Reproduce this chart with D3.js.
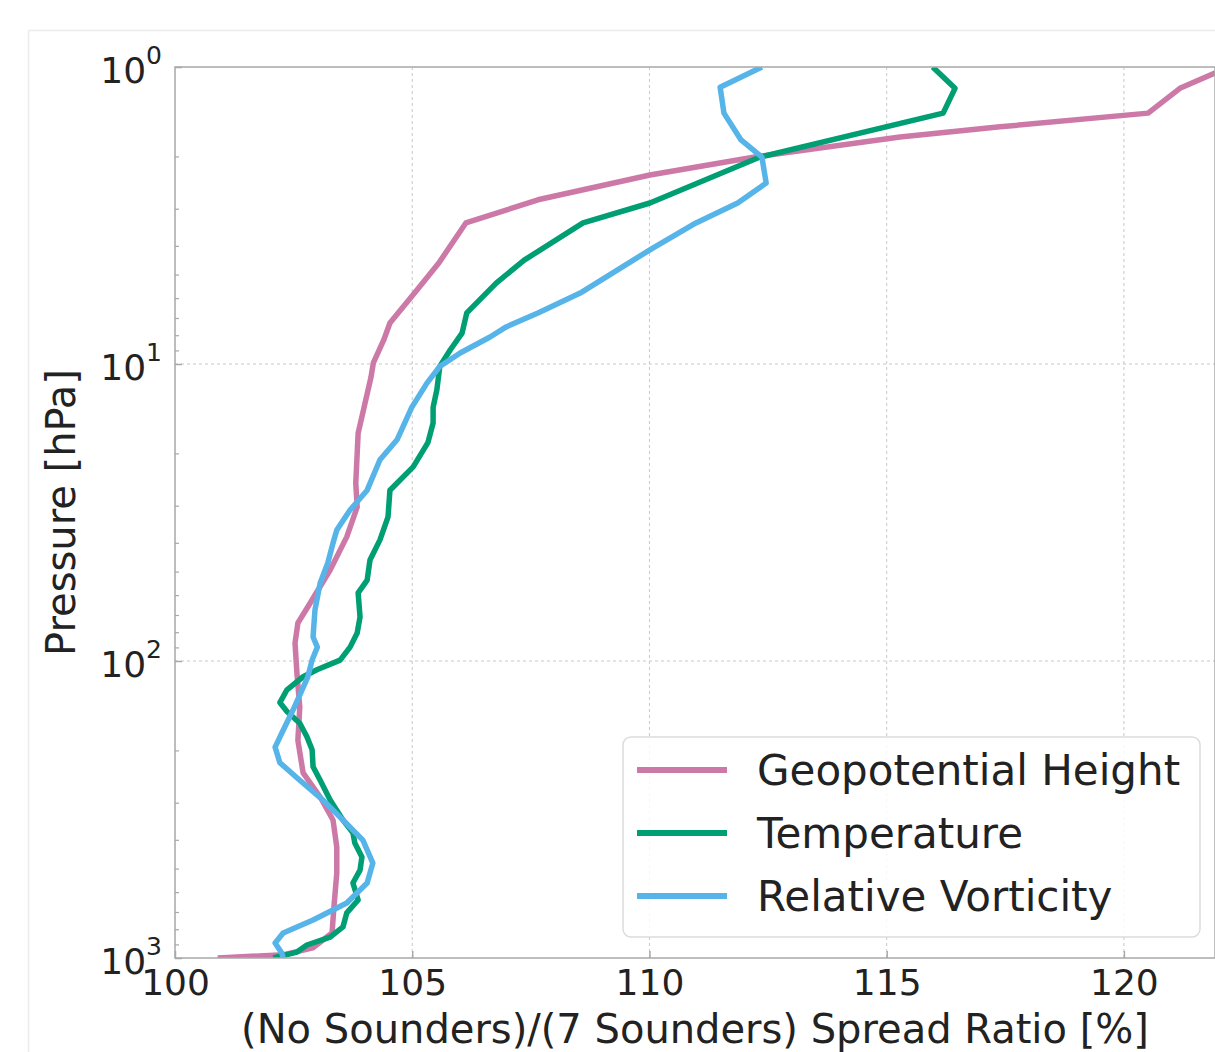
<!DOCTYPE html>
<html>
<head>
<meta charset="utf-8">
<script src="https://cdn.jsdelivr.net/npm/d3@7"></script>
<style>
  body { margin: 0; background: #fff; }
  svg { font-family: "DejaVu Sans", sans-serif; }
</style>
</head>
<body>
<div id="chart"></div>
<script>
const width = 1215;
const height = 1052;

// series names + colours (legend order)
const seriesNames = ['Geopotential Height', 'Temperature', 'Relative Vorticity'];
const seriesColors = ['#CC79A7', '#009E73', '#56B4E9'];

// pressure [hPa] and spread ratio [%]
const geoPressure = [1.0, 1.18, 1.43, 1.59, 1.72, 2.01, 2.31, 2.80, 3.35, 4.57, 5.63, 7.28, 8.30, 9.92, 11.1, 17.1, 25.2, 30.3, 38.2, 49.4, 63.8, 74.5, 87.0, 110, 143, 185, 238, 287, 343, 423, 517, 673, 824, 925, 975, 1000];
const geoRatio = [122.21, 121.18, 120.51, 117.39, 115.28, 112.22, 110.01, 107.65, 106.13, 105.56, 105.10, 104.53, 104.40, 104.18, 104.13, 103.86, 103.81, 103.84, 103.62, 103.27, 102.85, 102.59, 102.53, 102.57, 102.63, 102.59, 102.70, 103.06, 103.33, 103.41, 103.41, 103.35, 103.31, 102.90, 102.30, 100.90];

const tempPressure = [1.0, 1.18, 1.43, 2.01, 2.87, 3.35, 4.47, 5.34, 6.73, 7.87, 8.97, 10.2, 12.2, 14.0, 15.8, 18.4, 22.2, 26.6, 32.7, 39.1, 45.7, 53.4, 59.0, 71.1, 80.5, 89.8, 99.3, 107, 113, 125, 138, 148, 162, 180, 199, 227, 252, 294, 343, 379, 410, 457, 506, 559, 638, 705, 786, 850, 904, 955, 1000];
const tempRatio = [115.97, 116.44, 116.19, 112.33, 110.01, 108.60, 107.36, 106.77, 106.15, 106.05, 105.80, 105.58, 105.52, 105.44, 105.44, 105.33, 105.02, 104.53, 104.49, 104.32, 104.11, 104.05, 103.86, 103.90, 103.84, 103.69, 103.48, 102.99, 102.70, 102.36, 102.21, 102.36, 102.63, 102.78, 102.89, 102.91, 103.06, 103.27, 103.54, 103.75, 103.79, 103.94, 103.90, 103.75, 103.86, 103.62, 103.54, 103.27, 102.78, 102.57, 102.07];

const vortPressure = [1.0, 1.17, 1.43, 1.76, 2.01, 2.46, 2.87, 3.35, 4.07, 5.77, 6.73, 7.50, 8.11, 9.18, 10.2, 11.6, 14.0, 18.0, 21.0, 26.6, 31.0, 36.2, 40.1, 46.8, 54.6, 67.3, 83.0, 89.8, 99.3, 113, 146, 171, 195, 220, 252, 294, 343, 401, 479, 559, 653, 745, 824, 890, 962, 1000];
const vortRatio = [112.37, 111.49, 111.57, 111.93, 112.37, 112.46, 111.86, 110.98, 110.07, 108.54, 107.65, 106.98, 106.64, 106.01, 105.58, 105.31, 104.99, 104.68, 104.32, 104.05, 103.69, 103.41, 103.33, 103.22, 103.06, 102.95, 102.91, 103.00, 102.89, 102.80, 102.49, 102.28, 102.11, 102.21, 102.63, 103.12, 103.54, 103.96, 104.17, 104.05, 103.62, 102.91, 102.28, 102.11, 102.25, 102.28];

const xTicks = [100, 105, 110, 115, 120];
const yMajor = [1, 10, 100, 1000];
const yMinor = [];
[1, 10, 100].forEach(d => { for (let k = 2; k < 10; k++) yMinor.push(d * k); });

const margin = {top: 67, left: 175, bottom: 94, right: 0};
const plotW = width - margin.left - margin.right;
const plotH = height - margin.top - margin.bottom;

const svg = d3.select('#chart').append('svg')
  .attr('width', width)
  .attr('height', height);

// figure frame
svg.append('rect')
  .attr('x', 28.5).attr('y', 30.5)
  .attr('width', 1400).attr('height', 1200)
  .attr('fill', '#fff').attr('stroke', '#ececec').attr('stroke-width', 1.5);

const xScale = d3.scaleLinear().domain([100, 121.92]).range([0, plotW]);
const yScale = d3.scaleLog().domain([1, 1000]).range([0, plotH]);

const g = svg.append('g').attr('transform', `translate(${margin.left},${margin.top})`);

g.append('clipPath').attr('id', 'plot-clip')
  .append('rect').attr('width', plotW).attr('height', plotH);

// grid
g.append('g').selectAll('line').data(xTicks.slice(1))
  .join('line')
  .attr('x1', d => xScale(d)).attr('x2', d => xScale(d))
  .attr('y1', 0).attr('y2', plotH)
  .attr('stroke', '#c8c8c8').attr('stroke-width', 1).attr('stroke-dasharray', '3,3');
g.append('g').selectAll('line').data([10, 100])
  .join('line')
  .attr('y1', d => yScale(d)).attr('y2', d => yScale(d))
  .attr('x1', 0).attr('x2', plotW)
  .attr('stroke', '#c8c8c8').attr('stroke-width', 1).attr('stroke-dasharray', '3,3');

// lines
const series = [
  {name: seriesNames[0], color: seriesColors[0], p: geoPressure, v: geoRatio},
  {name: seriesNames[1], color: seriesColors[1], p: tempPressure, v: tempRatio},
  {name: seriesNames[2], color: seriesColors[2], p: vortPressure, v: vortRatio}
];

const lineGen = d3.line()
  .x(d => xScale(d[1]))
  .y(d => yScale(d[0]));

g.append('g').attr('clip-path', 'url(#plot-clip)')
  .selectAll('path').data(series)
  .join('path')
  .attr('d', s => lineGen(d3.zip(s.p, s.v)))
  .attr('fill', 'none')
  .attr('stroke', s => s.color)
  .attr('stroke-width', 5.5)
  .attr('stroke-linejoin', 'round');

// spines
const spineColor = '#a8a8a8';
g.append('rect')
  .attr('x', 0).attr('y', 0).attr('width', plotW).attr('height', plotH)
  .attr('fill', 'none').attr('stroke', spineColor).attr('stroke-width', 1.5);

// x axis
const xAxis = g.append('g')
  .attr('transform', `translate(0,${plotH})`)
  .call(d3.axisBottom(xScale).tickValues(xTicks).tickSize(-7).tickPadding(11).tickFormat(d3.format('d')));
xAxis.select('.domain').remove();
xAxis.selectAll('line').attr('stroke', spineColor).attr('stroke-width', 1.5);
xAxis.selectAll('text').attr('font-size', 36).attr('fill', '#222').attr('font-family', '"DejaVu Sans", sans-serif');

// y axis minor ticks
const yMinorAxis = g.append('g')
  .call(d3.axisLeft(yScale).tickValues(yMinor).tickSize(-4).tickFormat(''));
yMinorAxis.select('.domain').remove();
yMinorAxis.selectAll('line').attr('stroke', spineColor).attr('stroke-width', 1.2);

// y axis major ticks with 10^n labels
const yAxis = g.append('g')
  .call(d3.axisLeft(yScale).tickValues(yMajor).tickSize(-7).tickPadding(13).tickFormat(''));
yAxis.select('.domain').remove();
yAxis.selectAll('line').attr('stroke', spineColor).attr('stroke-width', 1.5);
yAxis.selectAll('.tick text')
  .attr('font-size', 36).attr('fill', '#222').attr('dy', '0.42em')
  .attr('font-family', '"DejaVu Sans", sans-serif')
  .each(function(d) {
    const t = d3.select(this);
    t.append('tspan').text('10');
    t.append('tspan').attr('font-size', 25).attr('dy', '-0.75em').text(Math.round(Math.log10(d)));
  });

// axis titles
svg.append('text')
  .attr('x', margin.left + plotW / 2).attr('y', 1043)
  .attr('text-anchor', 'middle').attr('font-size', 40).attr('fill', '#222')
  .text('(No Sounders)/(7 Sounders) Spread Ratio [%]');

svg.append('text')
  .attr('transform', `translate(75,${margin.top + plotH / 2}) rotate(-90)`)
  .attr('text-anchor', 'middle').attr('font-size', 40).attr('fill', '#222')
  .text('Pressure [hPa]');

// legend
const legend = svg.append('g').attr('transform', 'translate(623,737)');
legend.append('rect')
  .attr('width', 577).attr('height', 200).attr('rx', 8)
  .attr('fill', '#fff').attr('fill-opacity', 0.85)
  .attr('stroke', '#dcdcdc').attr('stroke-width', 1.5);
const rows = legend.selectAll('g.row').data(series)
  .join('g').attr('class', 'row')
  .attr('transform', (d, i) => `translate(0,${33 + i * 63})`);
rows.append('line')
  .attr('x1', 14).attr('x2', 104)
  .attr('stroke', d => d.color).attr('stroke-width', 6);
rows.append('text')
  .attr('x', 134).attr('dy', '0.36em')
  .attr('font-size', 42).attr('fill', '#222')
  .text(d => d.name);
</script>
</body>
</html>
